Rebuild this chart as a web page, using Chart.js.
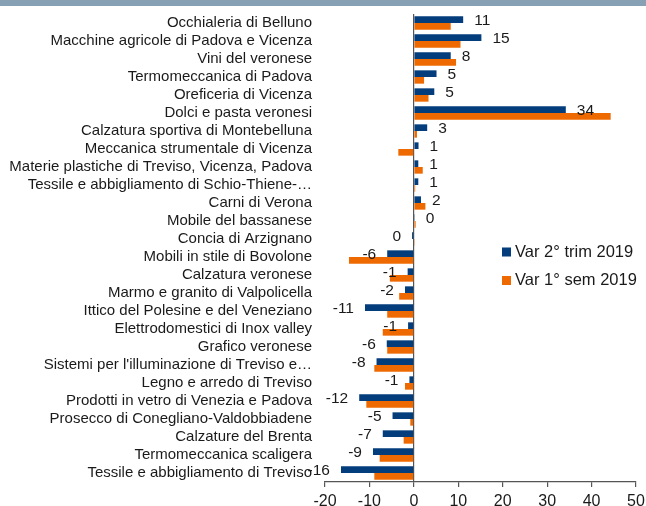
<!DOCTYPE html>
<html>
<head>
<meta charset="utf-8">
<script src="https://cdn.jsdelivr.net/npm/chart.js@4/dist/chart.umd.min.js"></script>
<style>
  html, body { margin: 0; padding: 0; background: #fff; }
  #band { position: absolute; left: 0; top: 0; width: 646px; height: 6px; background: #87a0b3; }
  #wrap { position: absolute; left: 0; top: 0; width: 646px; height: 506px; }
</style>
</head>
<body>
<div id="wrap"><canvas id="myChart" width="646" height="506"></canvas></div>
<div id="band"></div>
<script>
const categories = [
  'Occhialeria di Belluno',
  'Macchine agricole di Padova e Vicenza',
  'Vini del veronese',
  'Termomeccanica di Padova',
  'Oreficeria di Vicenza',
  'Dolci e pasta veronesi',
  'Calzatura sportiva di Montebelluna',
  'Meccanica strumentale di Vicenza',
  'Materie plastiche di Treviso, Vicenza, Padova',
  'Tessile e abbigliamento di Schio-Thiene-…',
  'Carni di Verona',
  'Mobile del bassanese',
  'Concia di Arzignano',
  'Mobili in stile di Bovolone',
  'Calzatura veronese',
  'Marmo e granito di Valpolicella',
  'Ittico del Polesine e del Veneziano',
  'Elettrodomestici di Inox valley',
  'Grafico veronese',
  "Sistemi per l'illuminazione di Treviso e…",
  'Legno e arredo di Treviso',
  'Prodotti in vetro di Venezia e Padova',
  'Prosecco di Conegliano-Valdobbiadene',
  'Calzature del Brenta',
  'Termomeccanica scaligera',
  'Tessile e abbigliamento di Treviso'
];

// Var 2° trim 2019
const trim2 = [11.1, 15.2, 8.3, 5.1, 4.6, 34.2, 3.0, 1.05, 1.0, 1.0, 1.6, 0.2, -0.4, -6.0,
  -1.4, -2.0, -11.0, -1.3, -6.1, -8.4, -1.0, -12.3, -4.8, -7.0, -9.2, -16.4];
// Var 1° sem 2019
const sem1 = [8.3, 10.5, 9.5, 2.3, 3.3, 44.3, 0.7, -3.5, 2.0, 0.3, 2.6, 0.4, 0.2, -14.6,
  -5.4, -3.3, -6.0, -7.0, -6.0, -8.9, -2.0, -10.7, -0.8, -2.3, -7.7, -8.9];

const xTicks = [-20, -10, 0, 10, 20, 30, 40, 50];

const BLUE = '#033d7c';
const ORANGE = '#ee6a00';
const AXIS = '#555555';
const FONT = '"Liberation Sans", Arial, sans-serif';

// labels only on the first series, like the original
const valueLabels = {
  id: 'valueLabels',
  afterDatasetsDraw(chart) {
    const ctx = chart.ctx;
    const meta = chart.getDatasetMeta(0);
    ctx.save();
    ctx.font = '15.5px ' + FONT;
    ctx.fillStyle = '#1a1a1a';
    ctx.textBaseline = 'middle';
    meta.data.forEach((bar, i) => {
      const v = chart.data.datasets[0].data[i];
      const txt = String(Math.round(v)).replace('-0', '0');
      if (v >= 0) {
        ctx.textAlign = 'left';
        ctx.fillText(txt, bar.x + 11, bar.y + 1.5);
      } else {
        ctx.textAlign = 'right';
        ctx.fillText(txt, bar.x - 11, bar.y + 1.5);
      }
    });
    ctx.restore();
  }
};

const boxLegend = {
  id: 'boxLegend',
  afterDraw(chart) {
    const ctx = chart.ctx;
    ctx.save();
    ctx.font = '16.5px ' + FONT;
    ctx.textBaseline = 'middle';
    ctx.textAlign = 'left';
    chart.data.datasets.forEach((ds, i) => {
      const y = 252 + i * 28.5;
      ctx.fillStyle = ds.backgroundColor;
      ctx.fillRect(502, y - 4.5, 9, 9);
      ctx.fillStyle = '#1a1a1a';
      ctx.fillText(ds.label, 515, y);
    });
    ctx.restore();
  }
};

new Chart(document.getElementById('myChart'), {
  type: 'bar',
  data: {
    labels: categories,
    datasets: [
      { label: 'Var 2° trim 2019', data: trim2, backgroundColor: BLUE,
        categoryPercentage: 0.74, barPercentage: 1.0 },
      { label: 'Var 1° sem 2019', data: sem1, backgroundColor: ORANGE,
        categoryPercentage: 0.74, barPercentage: 1.0 }
    ]
  },
  options: {
    indexAxis: 'y',
    responsive: false,
    animation: false,
    layout: { padding: { top: 14, right: 10, bottom: 0, left: 0 } },
    plugins: { legend: { display: false }, tooltip: { enabled: false } },
    scales: {
      x: {
        min: -20,
        max: 50,
        afterBuildTicks: (scale) => { scale.ticks = xTicks.map(v => ({ value: v })); },
        afterFit: (scale) => {
          scale.height = 24;
          scale.paddingLeft = 0;
          scale.paddingRight = 0;
        },
        grid: {
          color: (c) => (c.tick && c.tick.value === 0 ? AXIS : 'rgba(0,0,0,0)'),
          tickColor: AXIS,
          tickLength: 5,
          lineWidth: 1.2
        },
        border: { display: true, color: AXIS, width: 1.2 },
        ticks: {
          color: '#1a1a1a',
          padding: 5,
          maxRotation: 0,
          font: { family: FONT, size: 16 }
        }
      },
      y: {
        afterFit: (scale) => {
          scale.width = 325;
          scale.paddingTop = 0;
          scale.paddingBottom = 0;
        },
        grid: { display: false, drawTicks: false },
        border: { display: false },
        ticks: {
          color: '#1a1a1a',
          padding: 13,
          autoSkip: false,
          font: { family: FONT, size: 15 }
        }
      }
    }
  },
  plugins: [valueLabels, boxLegend]
});
</script>
</body>
</html>
